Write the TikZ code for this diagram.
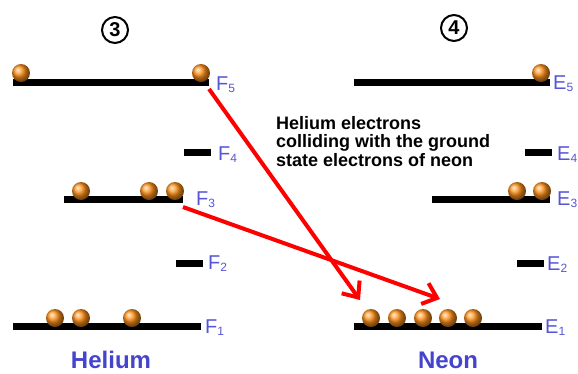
\documentclass[tikz,border=0pt]{standalone}
\usepackage{fontspec}
\setmainfont{Liberation Sans}
\usetikzlibrary{arrows.meta}
\definecolor{lbl}{RGB}{85,85,215}
\definecolor{ttl}{RGB}{68,68,204}
\definecolor{eball}{RGB}{255,145,25}
\newcommand\lvname[2]{#1\raisebox{-2pt}{\fontsize{12}{12}\selectfont #2}}
\begin{document}
\begin{tikzpicture}[x=1pt,y=-1pt,
  lvl/.style={line width=7pt},
  el/.style={circle, minimum size=18pt, inner sep=0pt, shading=ball, ball color=eball},
  lab/.style={anchor=base west, inner sep=0pt, text=lbl, font=\fontsize{20}{20}\selectfont},
  ttlnode/.style={inner sep=0pt, text=ttl, font=\fontsize{24}{24}\selectfont\bfseries},
  circnum/.style={circle, draw, line width=2pt, minimum size=26pt, inner sep=0pt, font=\fontsize{20}{20}\selectfont\bfseries},
  hit/.style={red, line width=4pt, -{Straight Barb[length=13pt, width=22pt, line width=4pt]}}
]
\useasboundingbox (0,0) rectangle (578,373);

% circled numbers
\node[circnum] (n3) at (115,30) {3};
\node[circnum] (n4) at (454,28) {4};

% Helium levels
\draw[lvl] (13,82) -- (209,82);
\draw[lvl] (184,152) -- (211,152);
\draw[lvl] (64,199) -- (183,199);
\draw[lvl] (176,263) -- (203,263);
\draw[lvl] (13,326) -- (201,326);

% Neon levels
\draw[lvl] (354,82) -- (550,82);
\draw[lvl] (525,152) -- (552,152);
\draw[lvl] (432,199) -- (550,199);
\draw[lvl] (517,263) -- (544,263);
\draw[lvl] (354,326) -- (542,326);

% Helium electrons
\node[el] (h5a) at (21,73) {};
\node[el] (h5b) at (201,73) {};
\node[el] (h3a) at (81,191) {};
\node[el] (h3b) at (149,191) {};
\node[el] (h3c) at (175,191) {};
\node[el] (h1a) at (55,318) {};
\node[el] (h1b) at (81,318) {};
\node[el] (h1c) at (132,318) {};

% Neon electrons
\node[el] (n5a) at (541,73) {};
\node[el] (n3a) at (517,191) {};
\node[el] (n3b) at (542,191) {};
\node[el] (n1a) at (371,318) {};
\node[el] (n1b) at (397,318) {};
\node[el] (n1c) at (423,318) {};
\node[el] (n1d) at (448,318) {};
\node[el] (n1e) at (473,318) {};

% labels
\node[lab] (F5) at (216,90) {\lvname{F}{5}};
\node[lab] (F4) at (218,160) {\lvname{F}{4}};
\node[lab] (F3) at (196,205) {\lvname{F}{3}};
\node[lab] (F2) at (208,269) {\lvname{F}{2}};
\node[lab] (F1) at (205,333) {\lvname{F}{1}};
\node[lab] (E5) at (553,89) {\lvname{E}{5}};
\node[lab] (E4) at (557,160) {\lvname{E}{4}};
\node[lab] (E3) at (557,205) {\lvname{E}{3}};
\node[lab] (E2) at (547,270) {\lvname{E}{2}};
\node[lab] (E1) at (545,333) {\lvname{E}{1}};

\node[ttlnode] (he) at (111,360) {Helium};
\node[ttlnode] (ne) at (448,360) {Neon};

\node[anchor=north west, inner sep=0pt, align=left,
      font=\fontsize{18}{18.5}\selectfont\bfseries] (txt) at (276,116)
  {Helium electrons\\colliding with the ground\\state electrons of neon};

% arrows
\coordinate (s1) at (209,89);
\coordinate (t1) at (360,300);
\coordinate (s2) at (183,207);
\coordinate (t2) at (440,299);
\draw[hit] (s1) -- (t1);
\draw[hit] (s2) -- (t2);
\end{tikzpicture}
\end{document}
